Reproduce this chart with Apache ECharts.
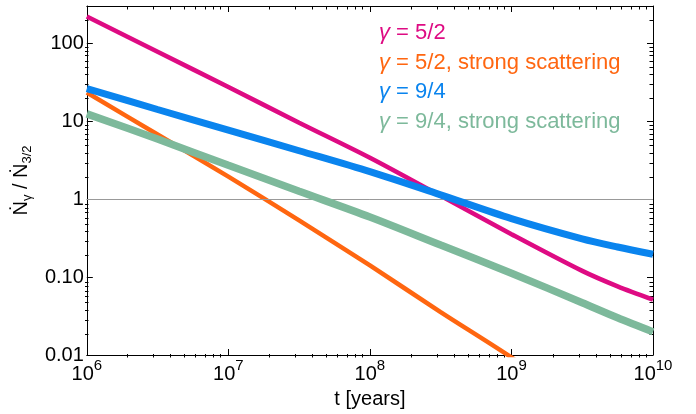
<!DOCTYPE html>
<html>
<head>
<meta charset="utf-8">
<script src="https://cdn.jsdelivr.net/npm/echarts@6/dist/echarts.min.js"></script>
<style>
  html, body { margin: 0; padding: 0; background: #fff; }
  #chart { width: 696px; height: 414px; }
</style>
</head>
<body>
<div id="chart"></div>
<script>
// time in years (x)
var tValues = [1e6, 3.16e6, 1e7, 3.16e7, 1e8, 3.16e8, 1e9, 3.16e9, 5.62e9, 1e10];

// Ndot_gamma / Ndot_3/2 for each curve
var g52 = [220, 77.6, 27.4, 9.55, 3.39, 1.10, 0.355, 0.12, 0.076, 0.0513];
var g52strong = [23.3, 6.73, 1.94, 0.533, 0.141, 0.0355, 0.0093, 0.0022, 0.0009, 0.0004];
var g94 = [26.2, 14.1, 7.69, 4.17, 2.25, 1.135, 0.562, 0.309, 0.243, 0.196];
var g94strong = [12.4, 5.89, 2.71, 1.26, 0.589, 0.257, 0.112, 0.0468, 0.030, 0.0198];

var seriesNames = ['γ = 5/2', 'γ = 5/2, strong scattering', 'γ = 9/4', 'γ = 9/4, strong scattering'];
var seriesColors = ['#de0b83', '#ff6610', '#0a84ee', '#7db99b'];
var seriesWidths = [4.5, 4.5, 7, 7.5];
var seriesData = [g52, g52strong, g94, g94strong];

var xMajor = [1e6, 1e7, 1e8, 1e9, 1e10];
var yMajor = [0.01, 0.1, 1, 10, 100];
var yLabels = ['0.01', '0.10', '1', '10', '100'];

function minorTicks(lo, hi, cap) {
    var out = [];
    for (var d = lo; d < hi; d *= 10) {
        for (var k = 2; k <= 9; k++) {
            var v = k * d;
            if (v < cap) out.push(v);
        }
    }
    return out;
}
var xMinor = minorTicks(1e6, 1e10, 1e10);
var yMinor = minorTicks(0.01, 1000, 299);

var font = 'Liberation Sans, Arial, sans-serif';

function xAxisDef(pos, grid, ticks, len, major) {
    return {
        type: 'log', gridIndex: grid, position: pos, min: 1e6, max: 1e10, logBase: 10,
        axisLine: {show: major, lineStyle: {color: '#000', width: 1}},
        axisTick: {show: true, inside: true, length: len, customValues: ticks,
            lineStyle: {color: '#000', width: 1}},
        axisLabel: {show: false},
        splitLine: {show: false}
    };
}
function yAxisDef(pos, grid, ticks, len, major) {
    return {
        type: 'log', gridIndex: grid, position: pos, min: 0.01, max: 300, logBase: 10,
        axisLine: {show: major, lineStyle: {color: '#000', width: 1}},
        axisTick: {show: true, inside: true, length: len, customValues: ticks,
            lineStyle: {color: '#000', width: 1}},
        axisLabel: {show: false},
        splitLine: {show: false}
    };
}

var gridBox = {left: 85, right: 43, top: 6, bottom: 56.5};

var xAxes = [
    xAxisDef('bottom', 0, xMajor, 6, true),
    xAxisDef('top', 0, xMajor, 6, true),
    xAxisDef('bottom', 1, xMinor, 3.5, false),
    xAxisDef('top', 1, xMinor, 3.5, false)
];
xAxes[0].axisLabel = {
    show: true, margin: 3, customValues: xMajor,
    fontFamily: font, color: '#000',
    formatter: function (v) {
        return '{b|10}{s|' + Math.round(Math.log10(v)) + '}';
    },
    rich: {
        b: {fontSize: 20, fontFamily: font, color: '#000', lineHeight: 26, verticalAlign: 'bottom'},
        s: {fontSize: 15, fontFamily: font, color: '#000', lineHeight: 15, verticalAlign: 'top'}
    }
};
xAxes[0].name = 't [years]';
xAxes[0].nameLocation = 'middle';
xAxes[0].nameGap = 34;
xAxes[0].nameTextStyle = {fontSize: 20, fontFamily: font, color: '#000'};

var yAxes = [
    yAxisDef('left', 0, yMajor, 6, true),
    yAxisDef('right', 0, yMajor, 6, true),
    yAxisDef('left', 1, yMinor, 3.5, false),
    yAxisDef('right', 1, yMinor, 3.5, false)
];
yAxes[0].axisLabel = {
    show: true, margin: 3, customValues: yMajor,
    fontSize: 20, fontFamily: font, color: '#000',
    formatter: function (v) {
        var i = Math.round(Math.log10(v)) + 2;
        return yLabels[i];
    }
};
yAxes[0].name = 'Ṅ{s|γ} / Ṅ{s|3/2}';
yAxes[0].nameLocation = 'middle';
yAxes[0].nameRotate = 90;
yAxes[0].nameGap = 46;
yAxes[0].nameTextStyle = {
    fontSize: 20, fontFamily: font, color: '#000', lineHeight: 26, verticalAlign: 'top',
    rich: {
        s: {fontSize: 13, fontFamily: font, color: '#000', lineHeight: 13, verticalAlign: 'bottom'}
    }
};

var series = [];
for (var i = 0; i < seriesData.length; i++) {
    var pts = [];
    for (var j = 0; j < tValues.length; j++) {
        pts.push([tValues[j], seriesData[i][j]]);
    }
    series.push({
        name: seriesNames[i],
        type: 'line',
        xAxisIndex: 0,
        yAxisIndex: 0,
        data: pts,
        smooth: 0.3,
        showSymbol: false,
        symbol: 'none',
        clip: true,
        lineStyle: {color: seriesColors[i], width: seriesWidths[i]},
        itemStyle: {color: seriesColors[i]},
        z: 3 + i
    });
}
// thin gray reference line at 1
series.unshift({
    name: 'unity',
    type: 'line',
    xAxisIndex: 0,
    yAxisIndex: 0,
    data: [],
    z: 2,
    markLine: {
        silent: true,
        symbol: 'none',
        label: {show: false},
        lineStyle: {color: '#999', width: 1, type: 'solid'},
        data: [{yAxis: 1}]
    }
});

var legendData = [];
for (var k = 0; k < seriesNames.length; k++) {
    legendData.push({name: seriesNames[k], textStyle: {color: seriesColors[k]}});
}

var myChart = echarts.init(document.getElementById('chart'));
var option = {
    animation: false,
    backgroundColor: '#fff',
    grid: [
        Object.assign({}, gridBox),
        Object.assign({}, gridBox)
    ],
    xAxis: xAxes,
    yAxis: yAxes,
    legend: {
        data: legendData,
        orient: 'vertical',
        left: 373,
        top: 20,
        padding: 0,
        itemGap: 3.6,
        itemWidth: 0,
        itemHeight: 0,
        selectedMode: false,
        formatter: function (name) {
            return name.replace('γ', '{g|γ}');
        },
        textStyle: {
            fontSize: 22, fontFamily: font, lineHeight: 26,
            rich: {g: {fontSize: 22, fontFamily: font, fontStyle: 'italic', lineHeight: 26}}
        }
    },
    series: series
};
myChart.setOption(option);
</script>
</body>
</html>
